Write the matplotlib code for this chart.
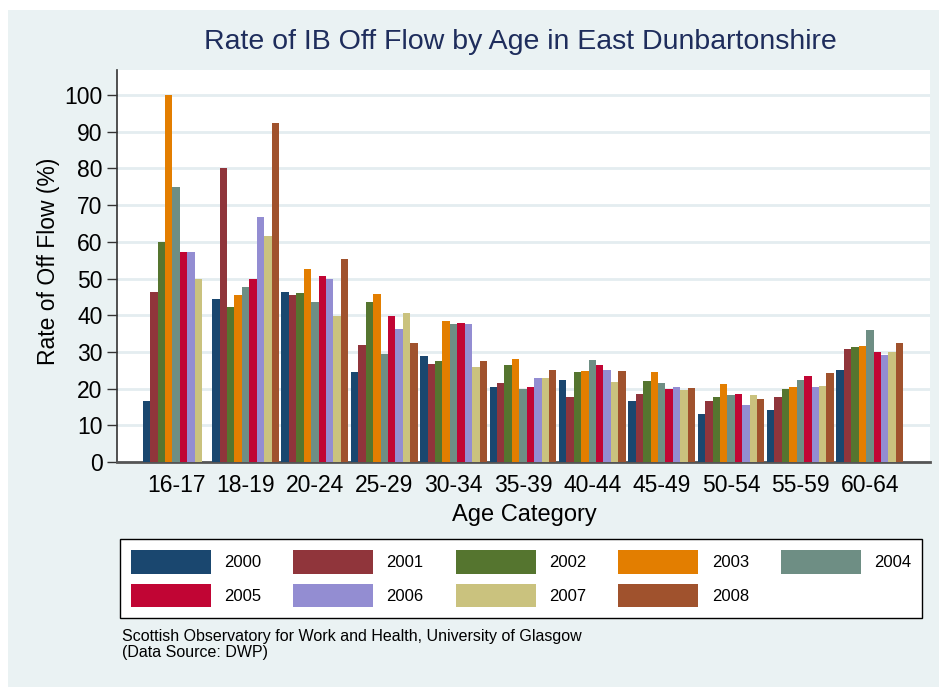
import numpy as np
import matplotlib
matplotlib.use("Agg")
import matplotlib.pyplot as plt
from matplotlib.patches import Rectangle

plt.rcParams['font.family'] = ['Liberation Sans', 'DejaVu Sans']

categories = ["16-17", "18-19", "20-24", "25-29", "30-34", "35-39",
              "40-44", "45-49", "50-54", "55-59", "60-64"]
years = ["2000", "2001", "2002", "2003", "2004", "2005", "2006", "2007", "2008"]

y2000 = [16.6, 44.4, 46.3, 24.5, 29.0, 20.4, 22.4, 16.5, 13.1, 14.1, 25.2]
y2001 = [46.2, 80.0, 45.6, 31.9, 26.6, 21.6, 17.8, 18.5, 16.5, 17.8, 30.9]
y2002 = [60.0, 42.1, 46.1, 43.5, 27.4, 26.5, 24.6, 22.0, 17.7, 20.0, 31.2]
y2003 = [100.0, 45.5, 52.6, 45.9, 38.5, 28.2, 24.9, 24.6, 21.2, 20.4, 31.5]
y2004 = [75.0, 47.6, 43.5, 29.3, 37.7, 20.0, 27.7, 21.5, 18.2, 22.4, 35.9]
y2005 = [57.1, 50.0, 50.6, 39.9, 38.0, 20.5, 26.5, 20.0, 18.5, 23.4, 30.1]
y2006 = [57.1, 66.7, 49.9, 36.2, 37.5, 23.0, 25.1, 20.4, 15.4, 20.3, 29.1]
y2007 = [50.0, 61.5, 39.9, 40.5, 25.9, 23.0, 21.7, 19.5, 18.2, 20.8, 29.9]
y2008 = [np.nan, 92.3, 55.2, 32.5, 27.5, 25.2, 24.7, 20.2, 17.3, 24.2, 32.3]

series = [y2000, y2001, y2002, y2003, y2004, y2005, y2006, y2007, y2008]
colors = ["#1A476F", "#90353B", "#55752F", "#E37E00", "#6E8E84",
          "#C10534", "#938DD2", "#CAC27E", "#A0522D"]

W, H = 943, 687
fig = plt.figure(figsize=(W / 100, H / 100), dpi=100)
fig.patch.set_facecolor("white")
bg = "#EAF2F3"
fig.patches.append(Rectangle((8 / W, 0), (939 - 8) / W, 1 - 10 / H,
                             transform=fig.transFigure, facecolor=bg,
                             edgecolor="none", zorder=-10))

L, R, T, B = 117, 930, 70, 462
ax = fig.add_axes([L / W, 1 - B / H, (R - L) / W, (B - T) / H])
ax.set_facecolor("white")

n = len(years)
bw = 0.963 / n
x = np.arange(len(categories))
for i, (vals, c, yr) in enumerate(zip(series, colors, years)):
    offs = -0.4815 + bw * (i + 0.5)
    ax.bar(x + offs, vals, width=bw, color=c, edgecolor="none", label=yr,
           zorder=3)

ax.set_xlim(-0.853, 10.868)
ax.set_ylim(0, 100 * (B - T) / (B - 95.0))
ax.set_yticks(np.arange(0, 101, 10))
ax.set_xticks(x)
ax.set_xticklabels(categories)
ax.grid(axis="y", color="#E4EDF0", linewidth=2.0, zorder=0)
ax.set_axisbelow(True)
for s in ["top", "right"]:
    ax.spines[s].set_visible(False)
ax.spines["left"].set_color("#333333")
ax.spines["left"].set_linewidth(1.2)
ax.spines["bottom"].set_color("#555555")
ax.spines["bottom"].set_linewidth(2.0)
ax.tick_params(axis="y", length=7, width=1, color="#333333", pad=3.5,
               labelsize=16.5)
ax.tick_params(axis="x", length=0, pad=9, labelsize=16.5)

fig.text(520 / W, 1 - 42 / H, "Rate of IB Off Flow by Age in East Dunbartonshire",
         ha="center", va="center", fontsize=20.5, color="#1E2D5C")
fig.text(49 / W, 1 - 261 / H, "Rate of Off Flow (%)", rotation=90,
         ha="center", va="center", fontsize=16.5)
fig.text(524 / W, 1 - 515 / H, "Age Category", ha="center", va="center",
         fontsize=17)

handles, labels = ax.get_legend_handles_labels()
order = [0, 5, 1, 6, 2, 7, 3, 8, 4]
leg = fig.legend([handles[k] for k in order], [labels[k] for k in order],
                 loc="upper left",
                 bbox_to_anchor=(120 / W, 1 - 539 / H - 0.01, (922 - 120) / W, 0.01),
                 mode="expand", ncol=5, fontsize=12, frameon=True,
                 fancybox=False, edgecolor="black", framealpha=1,
                 handlelength=4.8, handleheight=1.83, handletextpad=0.8,
                 labelspacing=0.6, borderpad=0.64, borderaxespad=0)
leg.get_frame().set_linewidth(1.0)

fig.text(122 / W, 1 - 637 / H,
         "Scottish Observatory for Work and Health, University of Glasgow",
         ha="left", va="center", fontsize=11.5)
fig.text(122 / W, 1 - 652 / H, "(Data Source: DWP)", ha="left",
         va="center", fontsize=11.5)

fig.savefig("out.png", dpi=100, facecolor=fig.get_facecolor())
